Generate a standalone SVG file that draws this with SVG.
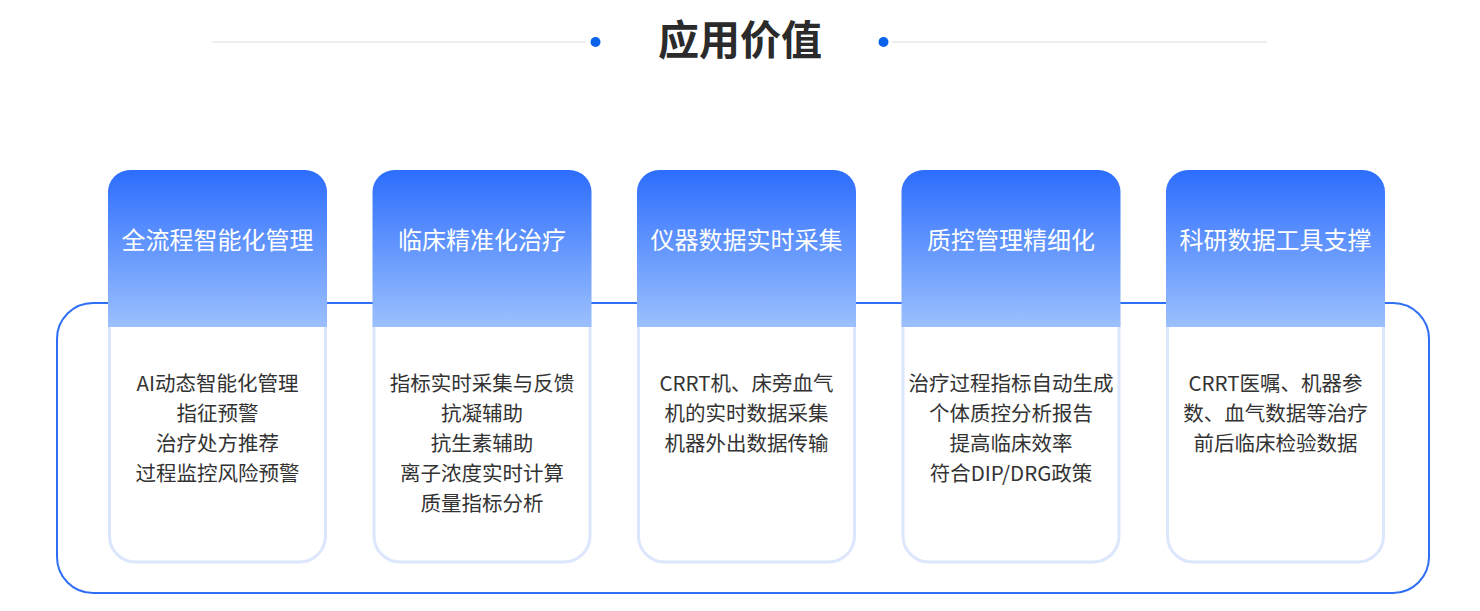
<svg xmlns="http://www.w3.org/2000/svg" width="1480" height="611" viewBox="0 0 1480 611">
<defs>
<linearGradient id="hg" x1="0" y1="0" x2="0" y2="1">
<stop offset="0" stop-color="#2c6dfd"/>
<stop offset="1" stop-color="#9cc0fe"/>
</linearGradient>
<style>
.t{font-family:"Noto Sans CJK SC","Noto Sans",sans-serif;}
.title{font-size:41px;font-weight:bold;fill:#2b2b2b;text-anchor:middle;}
.h{font-size:24px;fill:#fff;text-anchor:middle;}
.b{font-size:20.5px;fill:#333;text-anchor:middle;}
.body{fill:#fff;stroke:#dce6fc;stroke-width:3;}
.frame{fill:none;stroke:#2f6ff6;stroke-width:2;}
</style>
</defs>
<rect width="1480" height="611" fill="#fff"/>
<g id="title">
<line x1="212" y1="42" x2="586" y2="42" stroke="#eeeeee" stroke-width="2"/>
<line x1="892" y1="42" x2="1267" y2="42" stroke="#eeeeee" stroke-width="2"/>
<circle cx="595.5" cy="42" r="5" fill="#0a62ea"/>
<circle cx="883.5" cy="42" r="5" fill="#0a62ea"/>
<text class="t title" x="740" y="55">应用价值</text>
</g>
<g id="connectors">
<rect class="frame" x="57" y="303" width="1372" height="290" rx="36" ry="36"/>
</g>
<g id="card1">
<path class="body" d="M109.5 320 V536 a26 26 0 0 0 26 26 H299.5 a26 26 0 0 0 26 -26 V320 Z"/>
<path d="M108 327 V192 a22 22 0 0 1 22 -22 H305 a22 22 0 0 1 22 22 V327 Z" fill="url(#hg)"/>
<text class="t h" x="217.5" y="249">全流程智能化管理</text>
<text class="t b" x="217.5" y="391">AI动态智能化管理</text>
<text class="t b" x="217.5" y="421">指征预警</text>
<text class="t b" x="217.5" y="451">治疗处方推荐</text>
<text class="t b" x="217.5" y="481">过程监控风险预警</text>
</g>
<g id="card2">
<path class="body" d="M374 320 V536 a26 26 0 0 0 26 26 H564 a26 26 0 0 0 26 -26 V320 Z"/>
<path d="M372.5 327 V192 a22 22 0 0 1 22 -22 H569.5 a22 22 0 0 1 22 22 V327 Z" fill="url(#hg)"/>
<text class="t h" x="482" y="249">临床精准化治疗</text>
<text class="t b" x="482" y="391">指标实时采集与反馈</text>
<text class="t b" x="482" y="421">抗凝辅助</text>
<text class="t b" x="482" y="451">抗生素辅助</text>
<text class="t b" x="482" y="481">离子浓度实时计算</text>
<text class="t b" x="482" y="511">质量指标分析</text>
</g>
<g id="card3">
<path class="body" d="M638.5 320 V536 a26 26 0 0 0 26 26 H828.5 a26 26 0 0 0 26 -26 V320 Z"/>
<path d="M637 327 V192 a22 22 0 0 1 22 -22 H834 a22 22 0 0 1 22 22 V327 Z" fill="url(#hg)"/>
<text class="t h" x="746.5" y="249">仪器数据实时采集</text>
<text class="t b" x="746.5" y="391">CRRT机、床旁血气</text>
<text class="t b" x="746.5" y="421">机的实时数据采集</text>
<text class="t b" x="746.5" y="451">机器外出数据传输</text>
</g>
<g id="card4">
<path class="body" d="M903 320 V536 a26 26 0 0 0 26 26 H1093 a26 26 0 0 0 26 -26 V320 Z"/>
<path d="M901.5 327 V192 a22 22 0 0 1 22 -22 H1098.5 a22 22 0 0 1 22 22 V327 Z" fill="url(#hg)"/>
<text class="t h" x="1011" y="249">质控管理精细化</text>
<text class="t b" x="1011" y="391">治疗过程指标自动生成</text>
<text class="t b" x="1011" y="421">个体质控分析报告</text>
<text class="t b" x="1011" y="451">提高临床效率</text>
<text class="t b" x="1011" y="481">符合DIP/DRG政策</text>
</g>
<g id="card5">
<path class="body" d="M1167.5 320 V536 a26 26 0 0 0 26 26 H1357.5 a26 26 0 0 0 26 -26 V320 Z"/>
<path d="M1166 327 V192 a22 22 0 0 1 22 -22 H1363 a22 22 0 0 1 22 22 V327 Z" fill="url(#hg)"/>
<text class="t h" x="1275.5" y="249">科研数据工具支撑</text>
<text class="t b" x="1275.5" y="391">CRRT医嘱、机器参</text>
<text class="t b" x="1275.5" y="421">数、血气数据等治疗</text>
<text class="t b" x="1275.5" y="451">前后临床检验数据</text>
</g>
</svg>
